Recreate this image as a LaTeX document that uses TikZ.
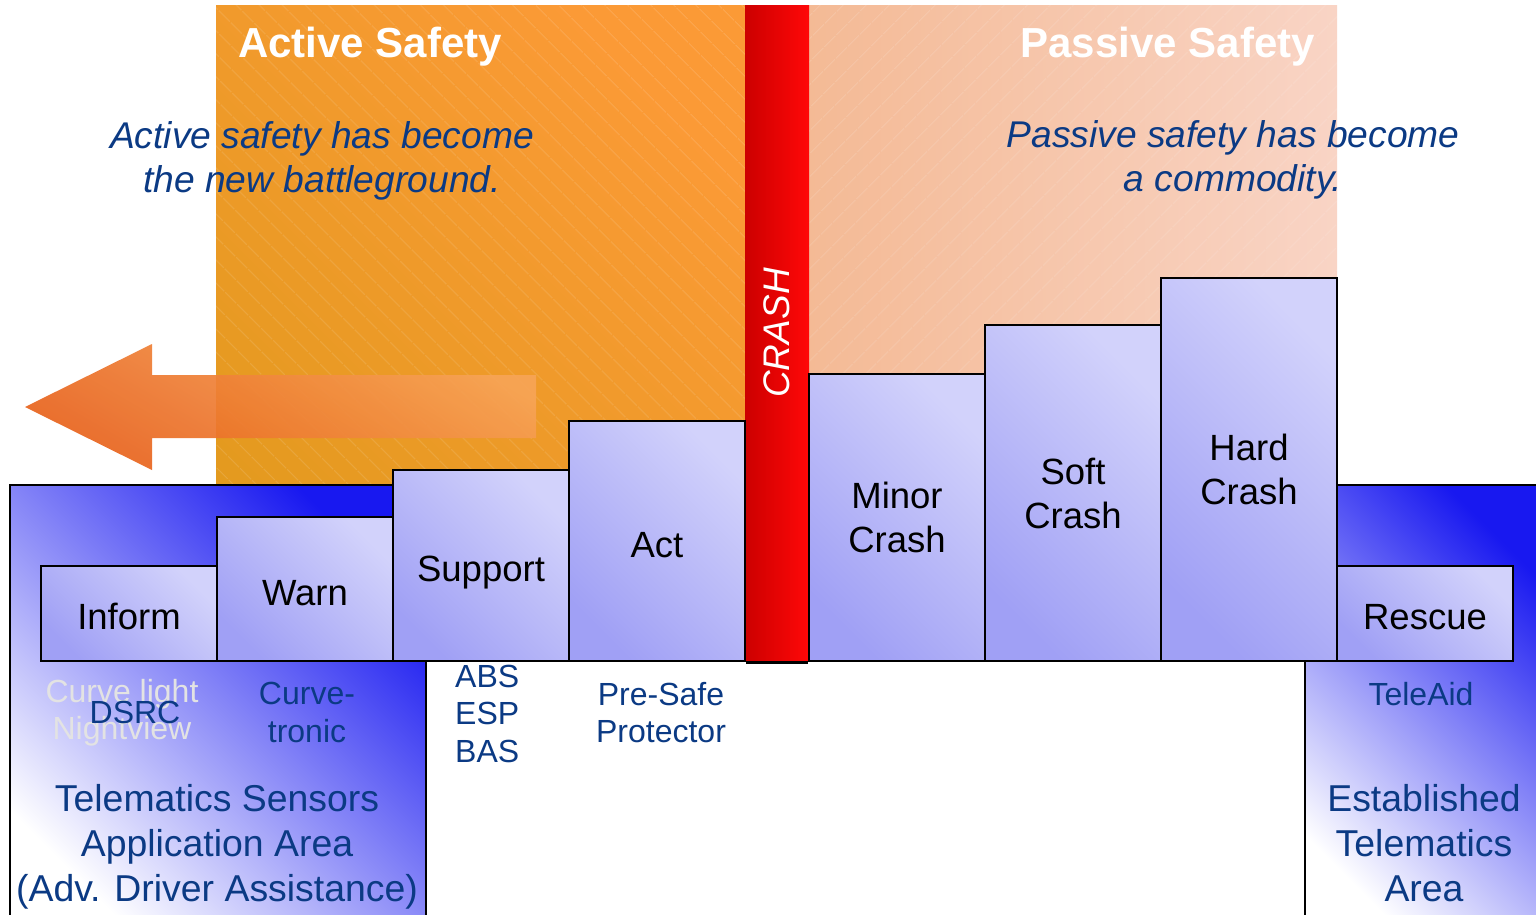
\documentclass[tikz,border=0pt]{standalone}
\usepackage{fontspec}
\setmainfont{Liberation Sans}
\usetikzlibrary{patterns.meta}
\definecolor{txtblue}{HTML}{0B3A84}
\definecolor{orA}{HTML}{FB9A36}
\definecolor{orB}{HTML}{E39A1E}
\definecolor{paA}{HTML}{F4BA95}
\definecolor{paB}{HTML}{F9D4C5}
\definecolor{redA}{HTML}{CC0000}
\definecolor{redB}{HTML}{FF0808}
\definecolor{boxlight}{HTML}{D2D2FB}
\definecolor{boxdark}{HTML}{A0A0F5}
\definecolor{deepblue}{HTML}{1818F0}
\definecolor{midblue}{HTML}{B0B0F8}
\definecolor{arrA}{HTML}{F7A456}
\definecolor{arrB}{HTML}{E8621C}
\begin{document}
\begin{tikzpicture}[x=1pt,y=-1pt,
  stepbox/.style={draw=black, line width=2.5pt, top color=boxlight, bottom color=boxdark, shading angle=-45, inner sep=0pt, align=center, font=\fontsize{36.5}{44}\selectfont, text=black},
  oneline/.style={text height=32pt, text depth=0pt},
  area/.style={draw=black, line width=2.5pt, top color=deepblue, middle color=midblue, bottom color=white, shading angle=-45},
  title/.style={text=white, font=\bfseries\fontsize{42}{50}\selectfont, inner sep=0pt},
  quote/.style={text=txtblue, font=\itshape\fontsize{37.2}{44}\selectfont, align=center, inner sep=0pt},
  small/.style={text=txtblue, font=\fontsize{32}{37.5}\selectfont, align=center, inner sep=0pt},
  big/.style={text=txtblue, font=\fontsize{37.4}{45}\selectfont, align=center, inner sep=0pt},
  hatch/.style={pattern={Lines[angle=#1,distance=17pt,line width=0.6pt]}, pattern color=white},
]
\useasboundingbox (0,0) rectangle (1536,915);
\fill[white] (0,0) rectangle (1536,915);
% backgrounds
\shade[top color=orA, bottom color=orB, shading angle=-45] (216,6) rectangle (745,661);
\fill[hatch=-45, fill opacity=0.2] (216,6) rectangle (745,661);
\shade[left color=paA, right color=paB] (809,6) rectangle (1337,661);
\fill[hatch=45, fill opacity=0.2] (809,6) rectangle (1337,661);
\shade[left color=redA, right color=redB] (745,6) rectangle (809,661);
% arrow
\shade[top color=arrA, bottom color=arrB, shading angle=-30, opacity=0.92]
  (536,375) -- (152,375) -- (152,344) -- (25,407) -- (152,470) -- (152,438) -- (536,438) -- cycle;
% blue areas
\draw[area] (10,485) rectangle (426,940);
\draw[area] (1305,485) rectangle (1550,940);
% titles
\node[title, anchor=base west] (actT) at (238,58) {Active Safety};
\node[title, anchor=base east] (pasT) at (1315,58) {Passive Safety};
\node[quote] (actQ) at (322,161) {Active safety has become\\the new battleground.};
\node[quote] (pasQ) at (1233,160) {Passive safety has become\\a commodity.};
% step boxes
\node[stepbox, oneline, minimum width=176pt, minimum height=95pt] (inform) at (129,613.5) {Inform};
\node[stepbox, oneline, minimum width=176pt, minimum height=144pt] (warn) at (305,589) {Warn};
\node[stepbox, oneline, minimum width=176pt, minimum height=191pt] (support) at (481,565.5) {Support};
\node[stepbox, oneline, minimum width=176pt, minimum height=240pt] (act) at (657,541) {Act};
\node[stepbox, minimum width=176pt, minimum height=287pt] (minor) at (897,517.5) {Minor\\Crash};
\node[stepbox, minimum width=176pt, minimum height=336pt] (soft) at (1073,493) {Soft\\Crash};
\node[stepbox, minimum width=176pt, minimum height=383pt] (hard) at (1249,469.5) {Hard\\Crash};
\node[stepbox, oneline, minimum width=176pt, minimum height=95pt] (rescue) at (1425,613.5) {Rescue};
\draw[line width=2.5pt] (act.south east) -- (minor.south west);
% crash label
\node[text=white, font=\itshape\fontsize{37}{44}\selectfont, rotate=90, inner sep=0pt] (crash) at (777,333) {CRASH};
% lower labels
\node[small, text=gray!22] (ghost) at (122,712.5) {Curve light\\Nightview};
\node[small] (dsrc) at (135,712) {DSRC};
\node[small] (curve) at (307,712.5) {Curve-\\tronic};
\node[small, align=left, anchor=west] (abs) at (455,713.5) {ABS\\ESP\\BAS};
\node[small] (presafe) at (661,712.5) {Pre-Safe\\Protector};
\node[small] (teleaid) at (1421,694) {TeleAid};
\node[big] (tsaa) at (217,846.5) {Telematics Sensors\\Application Area\\(Adv. Driver Assistance)};
\node[big] (eta) at (1424,843) {Established\\Telematics\\Area};
\end{tikzpicture}
\end{document}
